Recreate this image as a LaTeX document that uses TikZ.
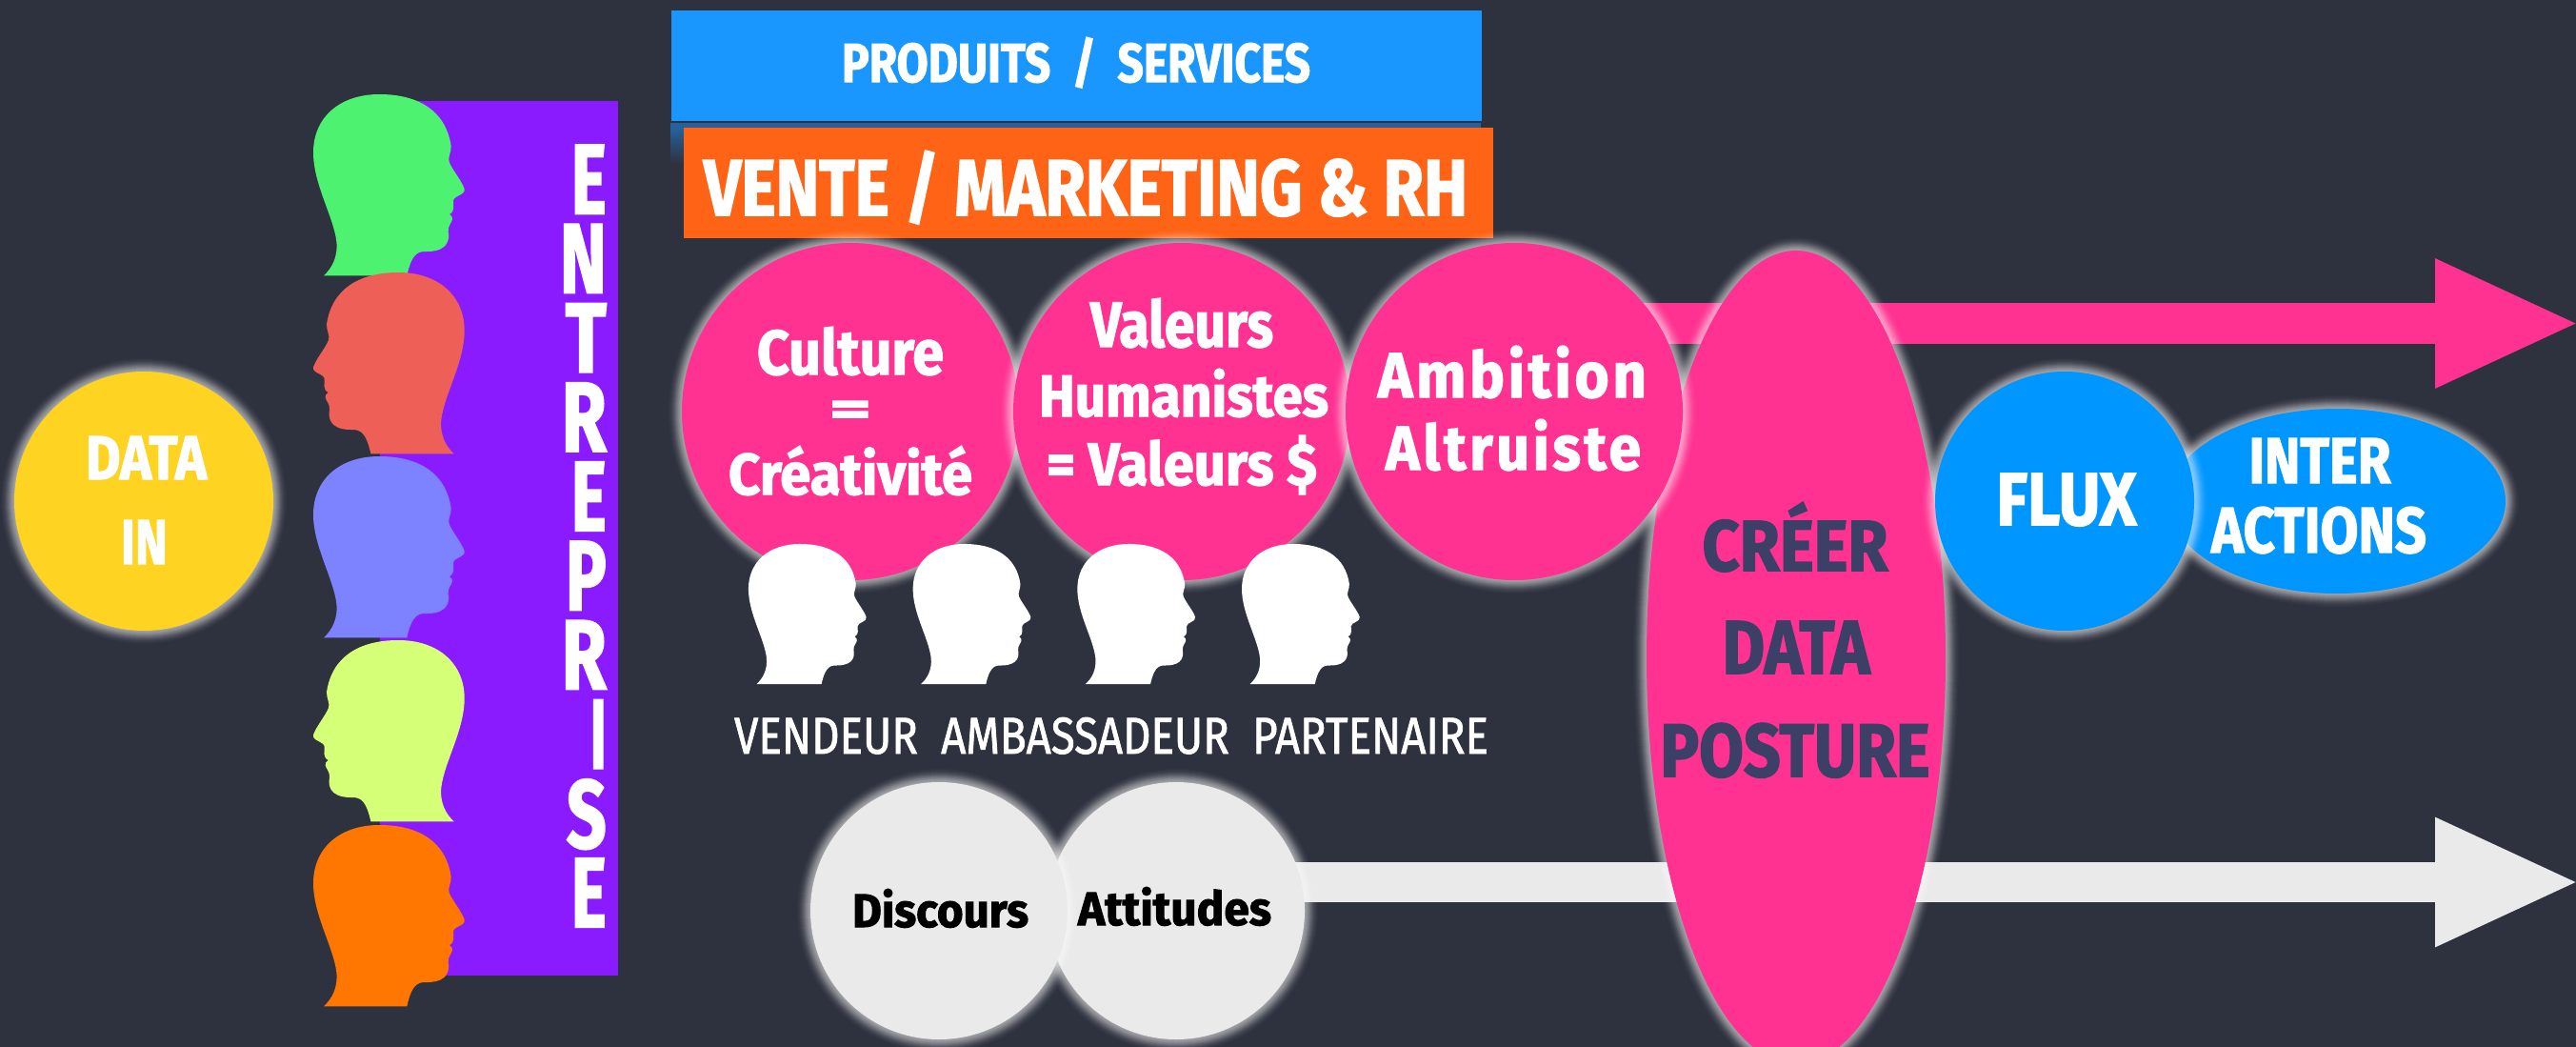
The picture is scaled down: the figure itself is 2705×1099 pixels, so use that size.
\documentclass[tikz,border=0pt]{standalone}
\usepackage{fontspec}
\usepackage{graphicx}
\setmainfont{Fira Sans}
\usetikzlibrary{shapes.geometric,arrows.meta}
\definecolor{bgc}{HTML}{2E323F}
\definecolor{purp}{HTML}{8B1BFF}
\definecolor{pinkc}{HTML}{FF3291}
\definecolor{bluec}{HTML}{0096FF}
\definecolor{yelc}{HTML}{FFD321}
\definecolor{greyc}{HTML}{EAEAEA}
\definecolor{boxb}{HTML}{1A96FF}
\definecolor{boxo}{HTML}{FF6315}
\definecolor{shb}{HTML}{27609B}
\definecolor{inkc}{HTML}{3C3F66}
\definecolor{hgreen}{HTML}{4DF270}
\definecolor{hred}{HTML}{EE5F57}
\definecolor{hperi}{HTML}{7D82FF}
\definecolor{hlime}{HTML}{D6FF78}
\definecolor{horange}{HTML}{FF7700}
\newcommand\Tx[3]{\resizebox{#1pt}{#2pt}{#3}}
\newcommand\LS[1]{\fontsize{40}{#1}\selectfont\lineskiplimit=-1000pt\lineskip=0pt\bfseries\addfontfeature{FakeBold=2}}
\newcommand\headpath{(120,628) .. controls (145,605) and (165,570) .. (160,520)
 .. controls (150,440) and (87,340) .. (87,240)
 .. controls (87,130) and (170,57) .. (295,57)
 .. controls (420,57) and (505,110) .. (521,220)
 .. controls (522,240) and (510,255) .. (515,270)
 .. controls (525,295) and (555,330) .. (563,355)
 .. controls (567,375) and (530,375) .. (528,392)
 .. controls (527,405) and (535,425) .. (516,435)
 .. controls (522,440) and (527,445) .. (525,450)
 .. controls (525,460) and (510,470) .. (512,490)
 .. controls (516,510) and (515,550) .. (450,552)
 .. controls (425,553) and (400,545) .. (382,628) -- cycle}
\newcommand\Head[5]{\begin{scope}[shift={(#1,#2)},x=#3pt,y=#4pt]\fill[#5] \headpath;\end{scope}}
\tikzset{
 glow/.style={
  preaction={draw=white,draw opacity=.015,line width=28pt},
  preaction={draw=white,draw opacity=.02,line width=26pt},
  preaction={draw=white,draw opacity=.025,line width=24pt},
  preaction={draw=white,draw opacity=.03,line width=22pt},
  preaction={draw=white,draw opacity=.04,line width=20pt},
  preaction={draw=white,draw opacity=.05,line width=18pt},
  preaction={draw=white,draw opacity=.06,line width=16pt},
  preaction={draw=white,draw opacity=.07,line width=14pt},
  preaction={draw=white,draw opacity=.08,line width=12pt},
  preaction={draw=white,draw opacity=.08,line width=10pt},
  preaction={draw=white,draw opacity=.08,line width=8pt},
  preaction={draw=white,draw opacity=.08,line width=6pt},
  preaction={draw=white,draw opacity=.08,line width=4pt},
  preaction={draw=white,draw opacity=.08,line width=2pt}},
 disc/.style 2 args={circle,glow,fill=#1,minimum size=#2,inner sep=0pt},
 oval/.style={ellipse,glow,fill=#1,inner sep=0pt},
 panel/.style={rectangle,fill=#1,inner sep=0pt},
 txt/.style={anchor=base,inner sep=0pt,text=white,font=\LS{48}},
 blk/.style={txt,text=black},
 ink/.style={txt,text=inkc},
 flow/.style={line width=#1,-{Triangle[length=153pt,width=124pt]}}
}
\begin{document}
\begin{tikzpicture}[x=1pt,y=-1pt]
\clip (0,0) rectangle (2705,1099);
\fill[bgc] (0,0) rectangle (2705,1099);

% top panels
\node[panel=boxb,minimum width=851pt,minimum height=116pt] (prod) at (1130.5,69) {};
\fill[shb] (704,129) rectangle (1555,135);
\shade[top color=shb,bottom color=bgc] (704,135) rectangle (718,172);
\node[panel=boxo,minimum width=850pt,minimum height=116pt] (vente) at (1143,192) {};
\node[txt] (prodt) at (1130,86) {\Tx{492}{47}{PRODUITS\ \ /\ \ SERVICES}};
\node[txt] (ventet) at (1140,226) {\Tx{802}{68}{VENTE / MARKETING \& RH}};

% enterprise
\node[panel=purp,minimum width=250pt,minimum height=918pt] (ent) at (524,565) {};
\Head{300}{80}{.3333}{-.3333}{hgreen}
\Head{516.7}{267}{-.3333}{-.3333}{hred}
\Head{300}{460}{.3333}{-.3333}{hperi}
\Head{516.7}{653}{-.3333}{-.3333}{hlime}
\Head{300}{847}{.3333}{-.3333}{horange}
\node[anchor=north east,inner sep=0pt,align=right,text=white,font=\LS{83.2}] (entt) at (637,152)
 {\Tx{37}{72}{E}\\\Tx{49}{72}{N}\hspace*{3pt}\\\Tx{43}{72}{T}\hspace*{-4pt}\\\Tx{47}{72}{R}\\\Tx{37}{72}{E}\\\Tx{43}{72}{P}\\\Tx{47}{72}{R}\\\Tx{17}{72}{I}\hspace*{3pt}\\\Tx{42}{72}{S}\\\Tx{37}{72}{E}};

% data in
\node[disc={yelc}{272pt}] (datain) at (151,526) {};
\node[txt] (dt1) at (153.5,503) {\Tx{127}{45}{DATA}};
\node[txt] (dt2) at (151.5,592) {\Tx{49}{46}{IN}};

% arrows
\coordinate (pinkstart) at (1590,339.5);
\coordinate (pinktip) at (2710,339.5);
\coordinate (greystart) at (1235,926);
\coordinate (greytip) at (2710,926);
\draw[flow=43pt,pinkc] (pinkstart) -- (pinktip);
\draw[flow=42pt,greyc] (greystart) -- (greytip);

% creer
\node[oval=pinkc,minimum width=314pt,minimum height=854pt] (creer) at (1886,690) {};

% values
\node[disc={pinkc}{354pt}] (cult) at (893,432) {};
\node[disc={pinkc}{354pt}] (val) at (1241,432) {};
\node[disc={pinkc}{354pt}] (amb) at (1590,432) {};

\node[txt] (c1) at (893,393) {\Tx{196}{50}{Culture}};
\node[txt] (c2) at (893,447) {\Tx{44}{26}{=}};
\node[txt] (c3) at (893,519) {\Tx{256}{51}{Créativité}};
\node[txt] (v1) at (1241,364) {\Tx{192}{51}{Valeurs}};
\node[txt] (v2) at (1243,437) {\Tx{304}{50}{Humanistes}};
\node[txt] (v3) at (1241,509) {\Tx{284}{52}{= Valeurs \$}};
\node[txt] (a1) at (1588,417) {\Tx{282}{54}{\addfontfeature{LetterSpace=6}Ambition}};
\node[txt] (a2) at (1589,493) {\Tx{268}{53}{\addfontfeature{LetterSpace=6}Altruiste}};

% white heads
\Head{763.3}{556.3}{.26}{-.2575}{white}
\Head{936}{556.3}{.26}{-.2575}{white}
\Head{1108.7}{556.3}{.26}{-.2575}{white}
\Head{1281.4}{556.3}{.26}{-.2575}{white}
\node[txt,font=\fontsize{40}{48}\selectfont\addfontfeature{FakeBold=1.5}] (roles) at (1167,791) {\Tx{792}{38}{VENDEUR\ \ AMBASSADEUR\ \ PARTENAIRE}};

% discours
\node[disc={greyc}{270pt}] (att) at (1235,956) {};
\node[disc={greyc}{270pt}] (dis) at (986,956) {};
\node[blk] (dist) at (987.5,973) {\Tx{185}{40}{Discours}};
\node[blk] (attt) at (1233.5,971) {\Tx{203}{40}{Attitudes}};

% creer text
\node[ink] (k1) at (1885,599) {\Tx{195}{72}{CRÉER}};
\node[ink] (k2) at (1886,707) {\Tx{155}{55}{DATA}};
\node[ink] (k3) at (1885,815) {\Tx{283}{56}{POSTURE}};

% flux
\node[oval=bluec,minimum width=354pt,minimum height=194pt] (inter) at (2454,526) {};
\node[disc={bluec}{272pt}] (flux) at (2168,526) {};
\node[txt] (f1) at (2170,551) {\Tx{147}{54}{FLUX}};
\node[txt] (i1) at (2436,507) {\Tx{149}{47}{INTER}};
\node[txt] (i2) at (2435,580) {\Tx{226}{48}{ACTIONS}};
\end{tikzpicture}
\end{document}
